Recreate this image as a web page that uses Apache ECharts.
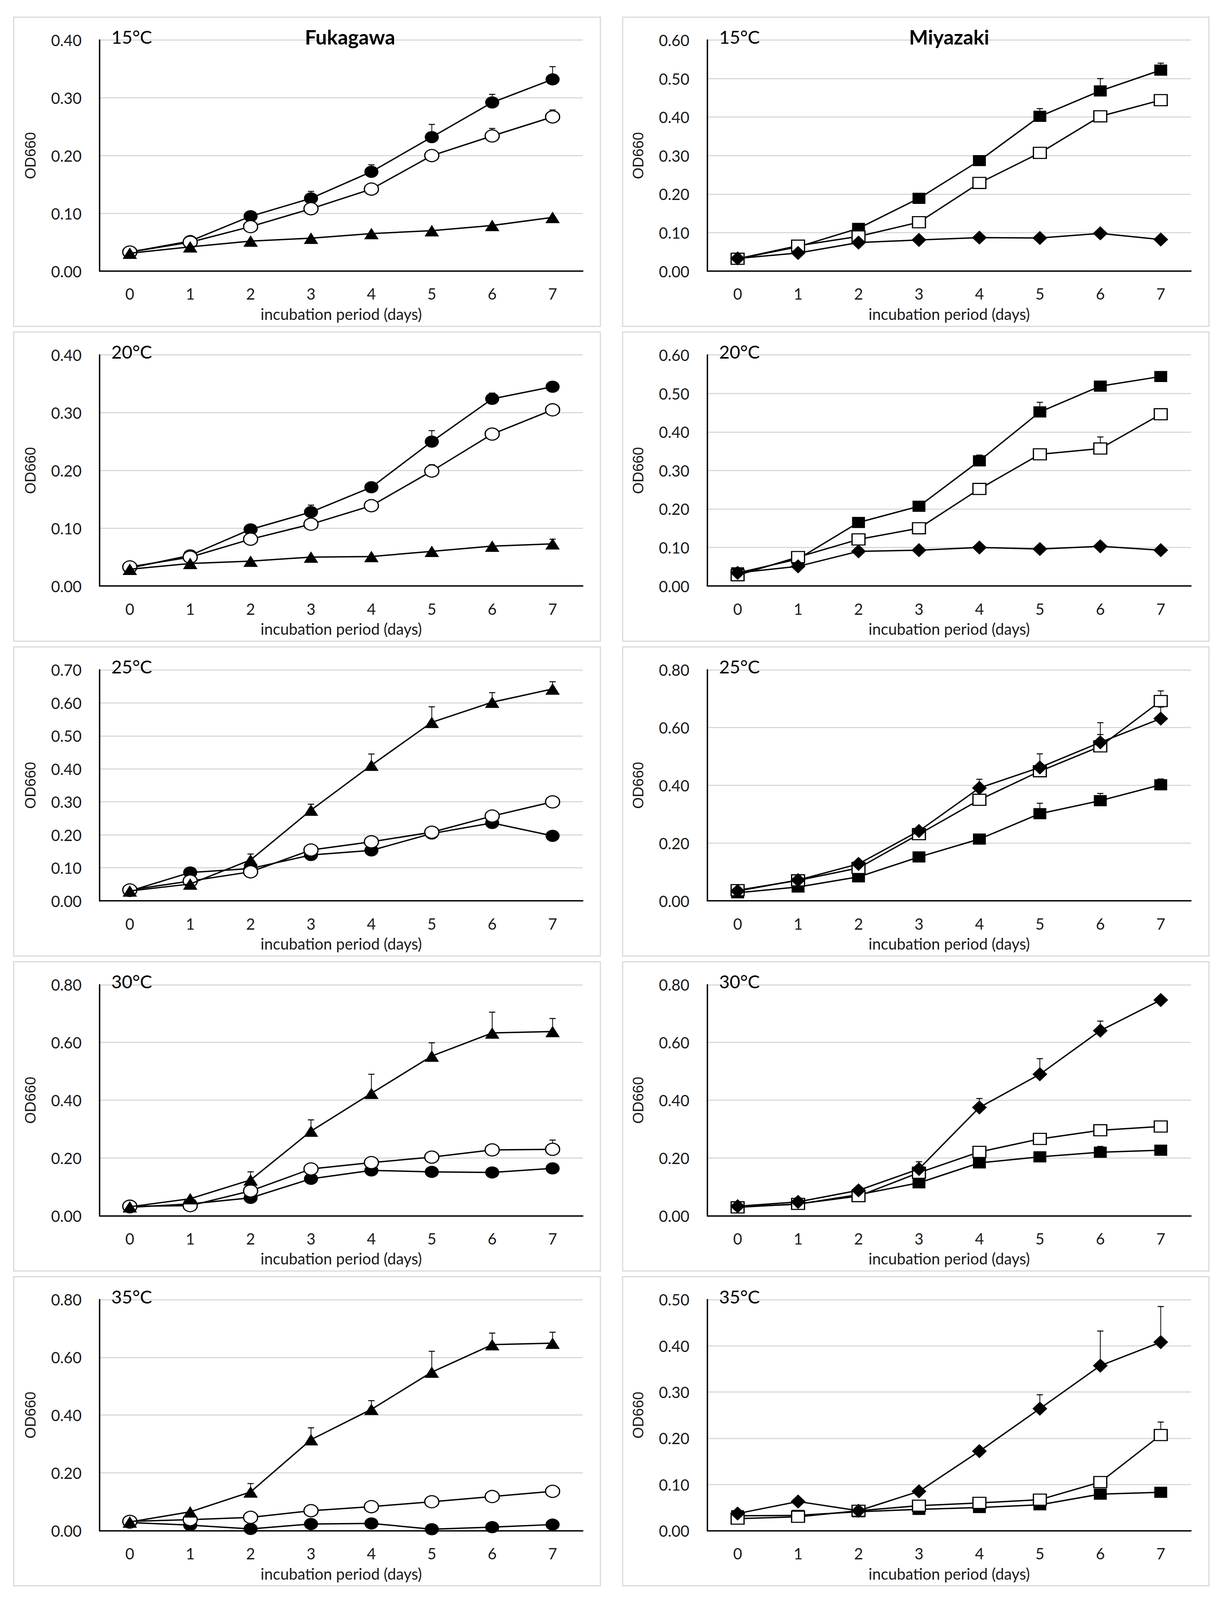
<!DOCTYPE html>
<html>
<head>
<meta charset="utf-8">
<script src="https://cdn.jsdelivr.net/npm/echarts@6/dist/echarts.min.js"></script>
<style>
html,body{margin:0;padding:0;background:#fff;overflow:hidden;}
#chart{position:absolute;left:0;top:0;}
</style>
</head>
<body>
<div id="chart"></div>
<script>
// ---------- data ----------
const days = ['0','1','2','3','4','5','6','7'];
const strains = ['Fukagawa','Miyazaki'];
const temps = ['15°C','20°C','25°C','30°C','35°C'];
const fukYMax = [0.4, 0.4, 0.7, 0.8, 0.8];
const fukYStep = [0.1, 0.1, 0.1, 0.2, 0.2];
const miyYMax = [0.6, 0.6, 0.8, 0.8, 0.5];
const miyYStep = [0.1, 0.1, 0.2, 0.2, 0.1];

// Fukagawa: filled circle, open circle, filled triangle
const fuk15Circle    = [0.033,0.052,0.095,0.126,0.172,0.232,0.292,0.332];
const fuk15CircleErr = [0,0,0.005,0.012,0.012,0.022,0.014,0.022];
const fuk15Open      = [0.033,0.050,0.077,0.108,0.142,0.200,0.234,0.267];
const fuk15OpenErr   = [0,0,0,0,0,0,0.013,0.012];
const fuk15Tri       = [0.031,0.042,0.052,0.057,0.065,0.070,0.079,0.093];
const fuk15TriErr    = [0,0,0,0,0,0,0,0];

const fuk20Circle    = [0.031,0.053,0.098,0.128,0.171,0.250,0.324,0.345];
const fuk20CircleErr = [0,0,0,0.012,0,0.019,0.010,0];
const fuk20Open      = [0.033,0.050,0.081,0.107,0.139,0.199,0.263,0.305];
const fuk20OpenErr   = [0,0,0,0,0.010,0.011,0,0];
const fuk20Tri       = [0.029,0.039,0.043,0.050,0.051,0.060,0.069,0.073];
const fuk20TriErr    = [0,0,0,0,0,0,0,0.008];

const fuk25Circle    = [0.030,0.086,0.098,0.139,0.153,0.204,0.236,0.197];
const fuk25CircleErr = [0,0,0,0,0,0,0,0];
const fuk25Open      = [0.033,0.060,0.088,0.154,0.179,0.208,0.257,0.300];
const fuk25OpenErr   = [0,0,0,0,0,0,0,0];
const fuk25Tri       = [0.030,0.051,0.124,0.275,0.411,0.541,0.602,0.642];
const fuk25TriErr    = [0,0,0.018,0.018,0.034,0.047,0.029,0.022];

const fuk30Circle    = [0.029,0.041,0.062,0.128,0.157,0.152,0.150,0.164];
const fuk30CircleErr = [0,0,0,0,0,0,0,0];
const fuk30Open      = [0.033,0.035,0.086,0.162,0.184,0.203,0.228,0.230];
const fuk30OpenErr   = [0,0,0,0,0,0.020,0,0.032];
const fuk30Tri       = [0.031,0.059,0.124,0.293,0.424,0.553,0.633,0.638];
const fuk30TriErr    = [0,0,0.028,0.039,0.066,0.046,0.072,0.045];

const fuk35Circle    = [0.028,0.019,0.006,0.023,0.025,0.005,0.012,0.021];
const fuk35CircleErr = [0,0,0,0,0,0,0,0];
const fuk35Open      = [0.032,0.038,0.046,0.069,0.083,0.100,0.118,0.136];
const fuk35OpenErr   = [0,0,0,0,0,0,0,0];
const fuk35Tri       = [0.030,0.065,0.134,0.315,0.420,0.549,0.644,0.649];
const fuk35TriErr    = [0,0,0.029,0.041,0.030,0.072,0.040,0.038];

// Miyazaki: filled square, open square, filled diamond
const miy15Square    = [0.032,0.063,0.111,0.189,0.287,0.402,0.468,0.522];
const miy15SquareErr = [0,0,0,0,0,0.020,0.032,0.018];
const miy15Open      = [0.032,0.066,0.090,0.127,0.229,0.307,0.402,0.444];
const miy15OpenErr   = [0,0,0,0,0,0.010,0,0];
const miy15Dia       = [0.033,0.047,0.074,0.081,0.087,0.086,0.098,0.082];
const miy15DiaErr    = [0,0,0,0,0,0,0,0];

const miy20Square    = [0.034,0.070,0.165,0.207,0.325,0.452,0.519,0.544];
const miy20SquareErr = [0,0,0,0.012,0.015,0.025,0,0.012];
const miy20Open      = [0.028,0.075,0.121,0.150,0.252,0.342,0.357,0.446];
const miy20OpenErr   = [0,0,0,0,0,0,0.030,0];
const miy20Dia       = [0.034,0.051,0.090,0.093,0.100,0.096,0.103,0.093];
const miy20DiaErr    = [0,0,0,0,0,0,0,0];

const miy25Square    = [0.028,0.048,0.083,0.152,0.214,0.302,0.347,0.402];
const miy25SquareErr = [0,0,0,0,0,0.036,0.025,0.020];
const miy25Open      = [0.037,0.071,0.114,0.231,0.350,0.449,0.535,0.692];
const miy25OpenErr   = [0,0,0,0,0,0.010,0.041,0.035];
const miy25Dia       = [0.034,0.072,0.128,0.242,0.391,0.462,0.549,0.631];
const miy25DiaErr    = [0,0,0,0,0.030,0.047,0.068,0.040];

const miy30Square    = [0.031,0.040,0.073,0.114,0.183,0.204,0.220,0.227];
const miy30SquareErr = [0,0,0,0,0,0.015,0.020,0.015];
const miy30Open      = [0.029,0.041,0.068,0.149,0.221,0.266,0.296,0.309];
const miy30OpenErr   = [0,0,0,0,0,0,0,0];
const miy30Dia       = [0.033,0.048,0.088,0.162,0.375,0.490,0.641,0.747];
const miy30DiaErr    = [0,0,0,0.025,0.031,0.054,0.033,0];

const miy35Square    = [0.032,0.033,0.041,0.046,0.050,0.056,0.079,0.083];
const miy35SquareErr = [0,0,0,0,0,0,0,0];
const miy35Open      = [0.026,0.030,0.043,0.054,0.060,0.067,0.105,0.207];
const miy35OpenErr   = [0,0,0,0,0,0,0,0.028];
const miy35Dia       = [0.037,0.063,0.043,0.085,0.172,0.264,0.357,0.408];
const miy35DiaErr    = [0,0,0,0,0,0.030,0.075,0.077];

// ---------- structure (built from the arrays above) ----------
const fukSeries = [
  [[fuk15Circle,fuk15CircleErr],[fuk15Open,fuk15OpenErr],[fuk15Tri,fuk15TriErr]],
  [[fuk20Circle,fuk20CircleErr],[fuk20Open,fuk20OpenErr],[fuk20Tri,fuk20TriErr]],
  [[fuk25Circle,fuk25CircleErr],[fuk25Open,fuk25OpenErr],[fuk25Tri,fuk25TriErr]],
  [[fuk30Circle,fuk30CircleErr],[fuk30Open,fuk30OpenErr],[fuk30Tri,fuk30TriErr]],
  [[fuk35Circle,fuk35CircleErr],[fuk35Open,fuk35OpenErr],[fuk35Tri,fuk35TriErr]]
];
const miySeries = [
  [[miy15Square,miy15SquareErr],[miy15Open,miy15OpenErr],[miy15Dia,miy15DiaErr]],
  [[miy20Square,miy20SquareErr],[miy20Open,miy20OpenErr],[miy20Dia,miy20DiaErr]],
  [[miy25Square,miy25SquareErr],[miy25Open,miy25OpenErr],[miy25Dia,miy25DiaErr]],
  [[miy30Square,miy30SquareErr],[miy30Open,miy30OpenErr],[miy30Dia,miy30DiaErr]],
  [[miy35Square,miy35SquareErr],[miy35Open,miy35OpenErr],[miy35Dia,miy35DiaErr]]
];

// ---------- sizing: layout designed for 3131x4751, scaled to the real viewport ----------
const W = window.innerWidth || 3131;
const H = window.innerHeight || 4751;
const sx = W / 3131, sy = H / 4751, sf = Math.min(sx, sy);
const X = v => v * sx, Y = v => v * sy, F = v => v * sf;

// marker styles (fuk: ● ○ ▲ ; miy: ■ □ ◆)
const fukMarks = [
  {symbol:'circle', size:[36,36], fill:'#000'},
  {symbol:'circle', size:[36,36], fill:'#fff'},
  {symbol:'triangle', size:[37,34], fill:'#000'}
];
const miyMarks = [
  {symbol:'rect', size:[33,33], fill:'#000'},
  {symbol:'rect', size:[33,33], fill:'#fff'},
  {symbol:'diamond', size:[38,42], fill:'#000'}
];

// layout
const ROW_STEP = 935, PLOT_TOP0 = 119, PLOT_H = 686, BOX_TOP0 = 51, BOX_H = 918;
const COLS = [
  {gridLeft:255, gridW:1237, boxX:35, boxW:1502},
  {gridLeft:1811, gridW:1238, boxX:1594, boxW:1501}
];
const LABEL_FONT = 'Lato';
const TEXT_COLOR = '#1a1a1a';

const grids = [], xAxes = [], yAxes = [], series = [], graphics = [];

function addPanel(idx, row, col, yMax, yStep, sets, marks) {
  const c = COLS[col];
  const top = PLOT_TOP0 + ROW_STEP * row;
  grids.push({left:X(c.gridLeft), top:Y(top), width:X(c.gridW), height:Y(PLOT_H), containLabel:false});
  xAxes.push({
    type:'category', gridIndex:idx, data:days, boundaryGap:true, z:5,
    axisLine:{show:true, lineStyle:{color:'#000', width:3.5}},
    axisTick:{show:false},
    axisLabel:{fontFamily:LABEL_FONT, fontSize:F(46), color:TEXT_COLOR, margin:Y(44)},
    splitLine:{show:false},
    name:'incubation period (days)', nameLocation:'middle', nameGap:Y(104),
    nameTextStyle:{fontFamily:LABEL_FONT, fontSize:F(46), color:TEXT_COLOR}
  });
  yAxes.push({
    type:'value', gridIndex:idx, min:0, max:yMax, interval:yStep,
    axisLine:{show:true, lineStyle:{color:'#000', width:3.5}},
    axisTick:{show:false},
    axisLabel:{fontFamily:LABEL_FONT, fontSize:F(46), color:TEXT_COLOR, margin:X(46),
      formatter:v => v.toFixed(2)},
    splitLine:{show:true, lineStyle:{color:'#d9d9d9', width:3}},
    name:'OD660', nameLocation:'middle', nameGap:X(158),
    nameTextStyle:{fontFamily:'Liberation Sans', fontSize:F(44), color:TEXT_COLOR}
  });
  sets.forEach((s, k) => {
    const vals = s[0], errs = s[1], m = marks[k];
    series.push({
      type:'custom', xAxisIndex:idx, yAxisIndex:idx, z:2, silent:true,
      encode:{x:0, y:1},
      data: vals.map((v, j) => [j, v, errs[j]]),
      renderItem: function (params, api) {
        const e = api.value(2);
        if (!(e > 0)) return null;
        const x = api.value(0), v = api.value(1);
        const p0 = api.coord([x, v]);
        const p1 = api.coord([x, v + e]);
        const hw = X(8);
        return {type:'group', children:[
          {type:'line', shape:{x1:p0[0], y1:p0[1], x2:p1[0], y2:p1[1]}, style:{stroke:'#000', lineWidth:2}},
          {type:'line', shape:{x1:p1[0]-hw, y1:p1[1], x2:p1[0]+hw, y2:p1[1]}, style:{stroke:'#000', lineWidth:2.5}}
        ]};
      }
    });
    series.push({
      type:'line', xAxisIndex:idx, yAxisIndex:idx, z:3 + k,
      data: vals, symbol:m.symbol, symbolSize:[X(m.size[0]), Y(m.size[1])],
      showSymbol:true, showAllSymbol:true,
      lineStyle:{color:'#000', width:3.5},
      itemStyle:{color:m.fill, borderColor:'#000', borderWidth: m.fill === '#fff' ? 3 : 0},
      emphasis:{disabled:true}
    });
  });
  // panel frame
  graphics.push({type:'rect', silent:true, z:-10,
    shape:{x:X(c.boxX), y:Y(BOX_TOP0 + ROW_STEP*row), width:X(c.boxW), height:Y(BOX_H)},
    style:{fill:'none', stroke:'#d9d9d9', lineWidth:3}});
  // temperature label
  graphics.push({type:'text', silent:true, z:20, x:X(c.gridLeft + 30), y:Y(top - 37),
    style:{text:temps[row], fontFamily:LABEL_FONT, fontSize:F(54), fill:'#000', align:'left', verticalAlign:'top'}});
}

for (let r = 0; r < 5; r++) {
  addPanel(r*2, r, 0, fukYMax[r], fukYStep[r], fukSeries[r], fukMarks);
  addPanel(r*2+1, r, 1, miyYMax[r], miyYStep[r], miySeries[r], miyMarks);
}
// strain names
graphics.push({type:'text', silent:true, z:20, x:X(896), y:Y(79),
  style:{text:strains[0], fontFamily:LABEL_FONT, fontWeight:'bold', fontSize:F(60), fill:'#000', align:'center', verticalAlign:'top'}});
graphics.push({type:'text', silent:true, z:20, x:X(2430), y:Y(79),
  style:{text:strains[1], fontFamily:LABEL_FONT, fontWeight:'bold', fontSize:F(60), fill:'#000', align:'center', verticalAlign:'top'}});

const el = document.getElementById('chart');
el.style.width = W + 'px';
el.style.height = H + 'px';
const chart = echarts.init(el, null, {renderer:'svg', width:W, height:H});
chart.setOption({
  animation:false,
  backgroundColor:'#fff',
  grid:grids, xAxis:xAxes, yAxis:yAxes, series:series, graphic:graphics
});
</script>
</body>
</html>
